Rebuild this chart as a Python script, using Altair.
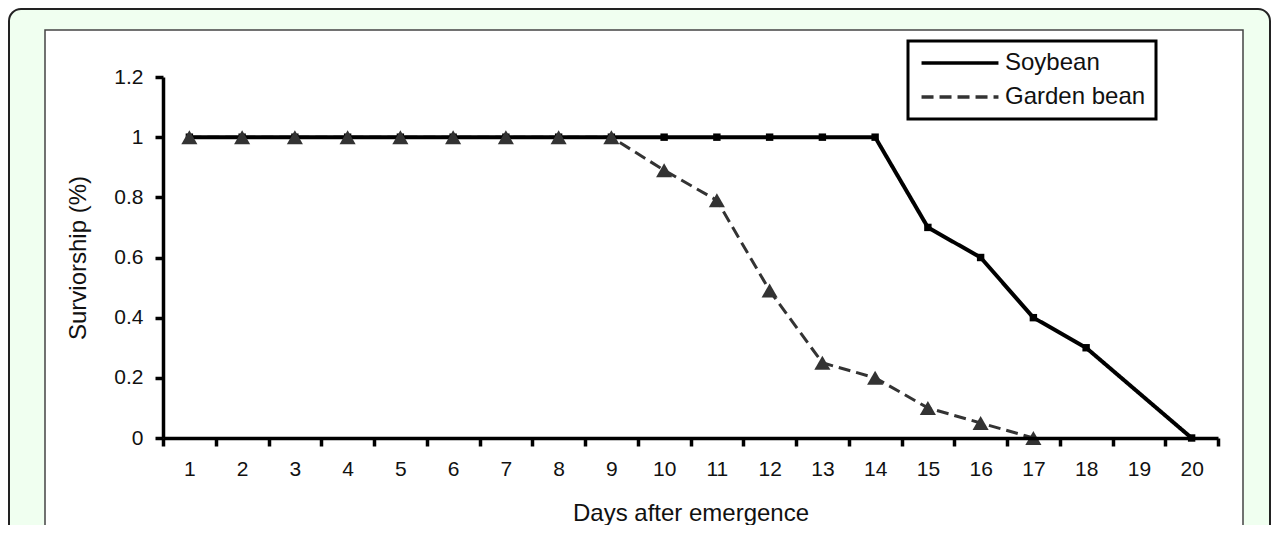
import altair as alt
import pandas as pd

# ---- data ----
days = list(range(1, 21))
soybean = [1, 1, 1, 1, 1, 1, 1, 1, 1, 1, 1, 1, 1, 1, 0.7, 0.6, 0.4, 0.3, None, 0]
garden_bean = [1, 1, 1, 1, 1, 1, 1, 1, 1, 0.89, 0.79, 0.49, 0.25, 0.2, 0.1, 0.05, 0, None, None, None]
series_names = ["Soybean", "Garden bean"]
x_tick_values = [0.5 + i for i in range(21)]
y_tick_values = [0, 0.2, 0.4, 0.6, 0.8, 1, 1.2]

rows = []
for name, vals in zip(series_names, [soybean, garden_bean]):
    for d, v in zip(days, vals):
        if v is not None:
            rows.append({"day": d, "value": v, "series": name})
df = pd.DataFrame(rows)

FONT = "Liberation Sans"
W, H = 1055, 361
PAD = {"left": 155, "top": 69, "right": 53, "bottom": 87}

x_enc = alt.X(
    "day:Q",
    scale=alt.Scale(domain=[0.5, 20.5], nice=False, zero=False),
    axis=alt.Axis(
        values=x_tick_values,
        labelExpr="datum.value < 20 ? format(datum.value + 0.5, 'd') : ''",
        labelOffset=W / 20 / 2,
        labelOverlap=False,
        labelFlush=False,
        labelPadding=12,
        title="Days after emergence",
        titlePadding=22,
        zindex=2,
    ),
)
y_enc = alt.Y(
    "value:Q",
    scale=alt.Scale(domain=[0, 1.2], nice=False, zero=True),
    axis=alt.Axis(
        values=y_tick_values,
        format="~g",
        labelPadding=12,
        title="Surviorship (%)",
        titlePadding=23,
        zindex=2,
    ),
)
LEG = dict(title=None, orient="none", legendX=745, legendY=-36)
color_enc = alt.Color(
    "series:N",
    scale=alt.Scale(domain=series_names, range=["#000000", "#333333"]),
    legend=alt.Legend(**LEG),
)
dash_enc = alt.StrokeDash(
    "series:N",
    scale=alt.Scale(domain=series_names, range=[[1, 0], [12, 6]]),
    legend=alt.Legend(**LEG),
)

base = alt.Chart(df)

blank = alt.Chart(alt.Data(values=[{"k": 1}]))
outer = blank.mark_rect(fill="#F0FFF0", stroke="#222222", strokeWidth=2, cornerRadius=12).encode(
    x=alt.value(-154), x2=alt.value(1107), y=alt.value(-68), y2=alt.value(480)
)
inner = blank.mark_rect(fill="#FFFFFF", stroke="#444444", strokeWidth=1.5).encode(
    x=alt.value(-118), x2=alt.value(1080), y=alt.value(-47), y2=alt.value(480)
)

garden_line = base.transform_filter(alt.datum.series == "Garden bean").mark_line(strokeWidth=3).encode(
    x=x_enc, y=y_enc, color=color_enc, strokeDash=dash_enc
)
soy_line = base.transform_filter(alt.datum.series == "Soybean").mark_line(strokeWidth=4).encode(
    x=x_enc, y=y_enc, color=color_enc, strokeDash=dash_enc
)
soy_pts = base.transform_filter(alt.datum.series == "Soybean").mark_point(
    shape="square", filled=True, color="#000000", size=55, opacity=1
).encode(x=x_enc, y=y_enc)
garden_pts = base.transform_filter(alt.datum.series == "Garden bean").mark_point(
    shape="triangle-up", filled=True, color="#333333", size=260, opacity=1
).encode(x=x_enc, y=y_enc)

chart = (
    alt.layer(outer, inner, garden_line, soy_line, soy_pts, garden_pts)
    .properties(width=W, height=H, autosize=alt.AutoSizeParams(type="none"), padding=PAD)
    .configure(background="#FFFFFF")
    .configure_view(stroke=None)
    .configure_axis(
        grid=False,
        domainColor="#000000",
        domainWidth=3.5,
        tickColor="#000000",
        tickWidth=3.5,
        tickSize=8,
        labelFont=FONT,
        labelFontSize=21,
        labelColor="#111111",
        titleFont=FONT,
        titleFontSize=24,
        titleFontWeight="normal",
        titleColor="#111111",
    )
    .configure_legend(
        strokeColor="#000000",
        strokeWidth=3,
        fillColor="#FFFFFF",
        padding=10,
        cornerRadius=0,
        labelFont=FONT,
        labelFontSize=24,
        labelColor="#111111",
        symbolType="M-4,0H4",
        symbolSize=370,
        symbolOffset=30,
        labelOffset=33,
        symbolStrokeWidth=3.5,
        rowPadding=10,
    )
)

chart.save("out.html", embed_options={"renderer": "svg", "actions": False})
